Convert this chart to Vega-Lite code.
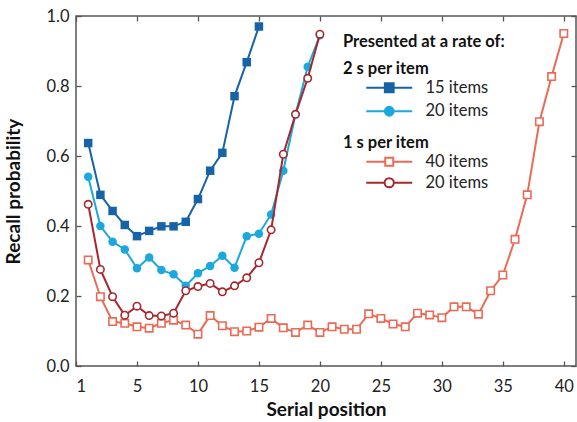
{
  "$schema": "https://vega.github.io/schema/vega-lite/v6.json",
  "width": 500,
  "height": 350,
  "autosize": "none",
  "padding": {"left": 76, "top": 16, "right": 1, "bottom": 56},
  "config": {
    "font": "Lato",
    "view": {"stroke": "#555555", "strokeWidth": 1.5},
    "axis": {"grid": false, "domain": false, "tickColor": "#555555", "tickWidth": 1.3, "labelColor": "#222222", "titleColor": "#111111", "labelFontSize": 16.5, "titleFontSize": 19, "titleFontWeight": "bold"},
    "legend": {"padding": 0, "labelFontSize": 16.5, "labelColor": "#222222", "titleFontSize": 16.5, "titleColor": "#111111", "titleFontWeight": "bold"}
  },
  "data": {"values": [
    {"series":"2s-15","pos":1,"p":0.637},{"series":"2s-15","pos":2,"p":0.489},{"series":"2s-15","pos":3,"p":0.443},{"series":"2s-15","pos":4,"p":0.403},{"series":"2s-15","pos":5,"p":0.371},{"series":"2s-15","pos":6,"p":0.386},{"series":"2s-15","pos":7,"p":0.399},{"series":"2s-15","pos":8,"p":0.399},{"series":"2s-15","pos":9,"p":0.412},{"series":"2s-15","pos":10,"p":0.477},{"series":"2s-15","pos":11,"p":0.558},{"series":"2s-15","pos":12,"p":0.609},{"series":"2s-15","pos":13,"p":0.771},{"series":"2s-15","pos":14,"p":0.868},{"series":"2s-15","pos":15,"p":0.970},
    {"series":"2s-20","pos":1,"p":0.541},{"series":"2s-20","pos":2,"p":0.400},{"series":"2s-20","pos":3,"p":0.355},{"series":"2s-20","pos":4,"p":0.333},{"series":"2s-20","pos":5,"p":0.279},{"series":"2s-20","pos":6,"p":0.310},{"series":"2s-20","pos":7,"p":0.274},{"series":"2s-20","pos":8,"p":0.262},{"series":"2s-20","pos":9,"p":0.229},{"series":"2s-20","pos":10,"p":0.265},{"series":"2s-20","pos":11,"p":0.286},{"series":"2s-20","pos":12,"p":0.315},{"series":"2s-20","pos":13,"p":0.281},{"series":"2s-20","pos":14,"p":0.371},{"series":"2s-20","pos":15,"p":0.378},{"series":"2s-20","pos":16,"p":0.433},{"series":"2s-20","pos":17,"p":0.558},{"series":"2s-20","pos":18,"p":0.719},{"series":"2s-20","pos":19,"p":0.855},{"series":"2s-20","pos":20,"p":0.945},
    {"series":"1s-40","pos":1,"p":0.303},{"series":"1s-40","pos":2,"p":0.198},{"series":"1s-40","pos":3,"p":0.127},{"series":"1s-40","pos":4,"p":0.122},{"series":"1s-40","pos":5,"p":0.112},{"series":"1s-40","pos":6,"p":0.108},{"series":"1s-40","pos":7,"p":0.122},{"series":"1s-40","pos":8,"p":0.131},{"series":"1s-40","pos":9,"p":0.117},{"series":"1s-40","pos":10,"p":0.091},{"series":"1s-40","pos":11,"p":0.144},{"series":"1s-40","pos":12,"p":0.115},{"series":"1s-40","pos":13,"p":0.098},{"series":"1s-40","pos":14,"p":0.100},{"series":"1s-40","pos":15,"p":0.111},{"series":"1s-40","pos":16,"p":0.136},{"series":"1s-40","pos":17,"p":0.109},{"series":"1s-40","pos":18,"p":0.096},{"series":"1s-40","pos":19,"p":0.117},{"series":"1s-40","pos":20,"p":0.096},{"series":"1s-40","pos":21,"p":0.112},{"series":"1s-40","pos":22,"p":0.105},{"series":"1s-40","pos":23,"p":0.105},{"series":"1s-40","pos":24,"p":0.149},{"series":"1s-40","pos":25,"p":0.136},{"series":"1s-40","pos":26,"p":0.120},{"series":"1s-40","pos":27,"p":0.112},{"series":"1s-40","pos":28,"p":0.151},{"series":"1s-40","pos":29,"p":0.146},{"series":"1s-40","pos":30,"p":0.138},{"series":"1s-40","pos":31,"p":0.169},{"series":"1s-40","pos":32,"p":0.169},{"series":"1s-40","pos":33,"p":0.148},{"series":"1s-40","pos":34,"p":0.215},{"series":"1s-40","pos":35,"p":0.260},{"series":"1s-40","pos":36,"p":0.362},{"series":"1s-40","pos":37,"p":0.489},{"series":"1s-40","pos":38,"p":0.698},{"series":"1s-40","pos":39,"p":0.827},{"series":"1s-40","pos":40,"p":0.950},
    {"series":"1s-20","pos":1,"p":0.462},{"series":"1s-20","pos":2,"p":0.276},{"series":"1s-20","pos":3,"p":0.198},{"series":"1s-20","pos":4,"p":0.145},{"series":"1s-20","pos":5,"p":0.171},{"series":"1s-20","pos":6,"p":0.144},{"series":"1s-20","pos":7,"p":0.143},{"series":"1s-20","pos":8,"p":0.151},{"series":"1s-20","pos":9,"p":0.215},{"series":"1s-20","pos":10,"p":0.227},{"series":"1s-20","pos":11,"p":0.236},{"series":"1s-20","pos":12,"p":0.212},{"series":"1s-20","pos":13,"p":0.229},{"series":"1s-20","pos":14,"p":0.252},{"series":"1s-20","pos":15,"p":0.295},{"series":"1s-20","pos":16,"p":0.389},{"series":"1s-20","pos":17,"p":0.605},{"series":"1s-20","pos":18,"p":0.719},{"series":"1s-20","pos":19,"p":0.822},{"series":"1s-20","pos":20,"p":0.948}
  ]},
  "resolve": {"scale": {"color": "independent"}, "axis": {"x": "independent", "y": "independent"}, "legend": {"color": "independent"}},
  "layer": [
    {
      "transform": [{"filter": {"field": "series", "oneOf": ["2s-15", "2s-20"]}}],
      "encoding": {
        "x": {"field": "pos", "type": "quantitative", "scale": {"domain": [0, 41], "nice": false, "zero": false},
              "axis": {"orient": "bottom", "values": [0,5,10,15,20,25,30,35,40], "labelExpr": "datum.value === 0 ? '1' : datum.label", "title": "Serial position", "tickSize": -5, "labelPadding": 17, "titlePadding": 6}},
        "y": {"field": "p", "type": "quantitative", "scale": {"domain": [0, 1], "nice": false},
              "axis": {"orient": "left", "values": [0,0.2,0.4,0.6,0.8,1], "format": ".1f", "title": "Recall probability", "tickSize": -5, "labelPadding": 12, "titlePadding": 22}},
        "color": {"field": "series", "type": "nominal",
                  "scale": {"domain": ["2s-15", "2s-20"], "range": ["#1763a7", "#1ba8dc"]},
                  "legend": {
                    "title": ["Presented at a rate of:", "2 s per item"],
                    "titleLineHeight": 27,
                    "orient": "none", "legendX": 267, "legendY": 18,
                    "titlePadding": 2, "rowPadding": 5.5,
                    "symbolSize": 64, "symbolOffset": 38, "labelOffset": 28,
                    "labelExpr": "slice(datum.label, 3) + ' items'",
                    "encode": {"symbols": {"update": {
                      "shape": {"signal": "datum.value === '2s-15' ? 'M-5.75,0H-1.1M1.1,0H5.75M-1.1,-1.1H1.1V1.1H-1.1Z' : 'M-5.75,0H-1.1M1.1,0H5.75M-1.1,0A1.1,1.1,0,1,0,1.1,0A1.1,1.1,0,1,0,-1.1,0Z'"},
                      "fill": {"signal": "datum.value === '2s-15' ? '#1763a7' : '#1ba8dc'"},
                      "stroke": {"signal": "datum.value === '2s-15' ? '#1763a7' : '#1ba8dc'"},
                      "strokeWidth": {"value": 2},
                      "opacity": {"value": 1}
                    }}}
                  }}
      },
      "layer": [
        {"mark": {"type": "line", "strokeWidth": 2}},
        {"mark": {"type": "point", "filled": true, "size": 72, "opacity": 1},
         "encoding": {"shape": {"field": "series", "type": "nominal", "scale": {"domain": ["2s-15", "2s-20", "1s-40", "1s-20"], "range": ["square", "circle", "square", "circle"]}, "legend": null}}}
      ]
    },
    {
      "transform": [{"filter": {"field": "series", "oneOf": ["1s-40", "1s-20"]}}],
      "encoding": {
        "x": {"field": "pos", "type": "quantitative", "scale": {"domain": [0, 41], "nice": false, "zero": false},
              "axis": {"orient": "top", "values": [0,5,10,15,20,25,30,35,40], "labels": false, "title": null, "tickSize": -5}},
        "y": {"field": "p", "type": "quantitative", "scale": {"domain": [0, 1], "nice": false},
              "axis": {"orient": "right", "values": [0,0.2,0.4,0.6,0.8,1], "labels": false, "title": null, "tickSize": -5}},
        "color": {"field": "series", "type": "nominal",
                  "scale": {"domain": ["1s-40", "1s-20"], "range": ["#e96a55", "#a6282d"]},
                  "legend": {
                    "title": "1 s per item",
                    "orient": "none", "legendX": 267, "legendY": 119,
                    "titlePadding": 2, "rowPadding": 3,
                    "symbolSize": 64, "symbolOffset": 38, "labelOffset": 28,
                    "labelExpr": "slice(datum.label, 3) + ' items'",
                    "encode": {"symbols": {"update": {
                      "shape": {"signal": "datum.value === '1s-40' ? 'M-5.75,0H-1M1,0H5.75M-1,-1H1V1H-1Z' : 'M-5.75,0H-1.15M1.15,0H5.75M-1.15,0A1.15,1.15,0,1,0,1.15,0A1.15,1.15,0,1,0,-1.15,0Z'"},
                      "fill": {"value": "white"},
                      "stroke": {"signal": "datum.value === '1s-40' ? '#e96a55' : '#a6282d'"},
                      "strokeWidth": {"value": 2},
                      "opacity": {"value": 1}
                    }}}
                  }}
      },
      "layer": [
        {"mark": {"type": "line", "strokeWidth": 2}},
        {"mark": {"type": "point", "filled": false, "fill": "white", "size": 55, "strokeWidth": 1.6, "opacity": 1},
         "encoding": {"shape": {"field": "series", "type": "nominal", "scale": {"domain": ["2s-15", "2s-20", "1s-40", "1s-20"], "range": ["square", "circle", "square", "circle"]}, "legend": null}}}
      ]
    }
  ]
}
